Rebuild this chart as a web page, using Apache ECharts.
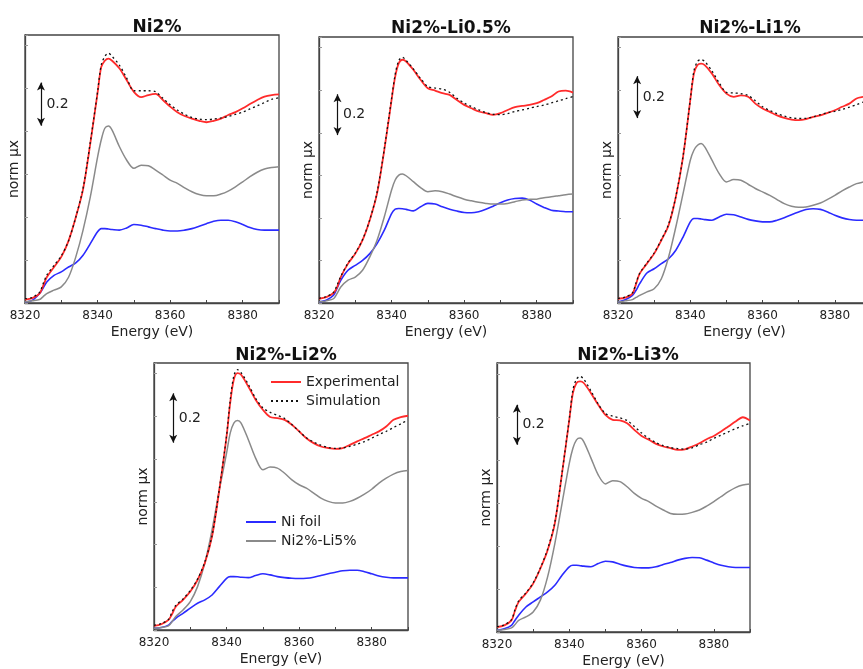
<!DOCTYPE html>
<html>
<head>
<meta charset="utf-8">
<script src="https://cdn.jsdelivr.net/npm/echarts@6/dist/echarts.min.js"></script>
<style>html,body{margin:0;padding:0;background:#fff}#c{width:863px;height:669px}</style>
</head>
<body>
<div id="c"></div>
<script>
// ---- data ----
const energy = [8320,8322,8324,8325,8326,8328,8330,8332,8334,8336,8338,8340,8341,8342,8343,8344,8346,8348,8350,8352,8354,8356,8358,8360,8362,8364,8366,8368,8370,8372,8374,8376,8378,8380,8382,8384,8386,8388,8390];
const xTicks = [8320,8340,8360,8380];
const panelTitles = ['Ni2%','Ni2%-Li0.5%','Ni2%-Li1%','Ni2%-Li2%','Ni2%-Li3%'];
const seriesNames = ['Experimental','Simulation','Ni foil','Ni2%-Li5%'];

const exp1 = [0.016,0.023,0.044,0.08,0.12,0.168,0.215,0.29,0.40,0.53,0.745,0.98,1.10,1.13,1.14,1.13,1.095,1.04,0.985,0.96,0.97,0.975,0.947,0.916,0.89,0.872,0.86,0.85,0.843,0.85,0.86,0.877,0.89,0.908,0.928,0.947,0.963,0.97,0.973];
const sim1 = [0.02,0.026,0.05,0.09,0.13,0.175,0.22,0.29,0.40,0.535,0.75,0.985,1.11,1.15,1.165,1.15,1.11,1.05,0.99,0.99,0.99,0.985,0.955,0.925,0.9,0.88,0.865,0.858,0.855,0.858,0.863,0.87,0.88,0.89,0.905,0.92,0.935,0.95,0.957];
const ref1 = [0.005,0.01,0.016,0.03,0.044,0.06,0.075,0.12,0.215,0.34,0.495,0.68,0.76,0.815,0.825,0.806,0.73,0.667,0.628,0.643,0.64,0.62,0.597,0.573,0.558,0.537,0.519,0.506,0.5,0.5,0.508,0.522,0.542,0.565,0.589,0.61,0.625,0.632,0.636];
const foil1 = [0.005,0.012,0.044,0.07,0.098,0.129,0.145,0.168,0.187,0.223,0.277,0.332,0.347,0.347,0.345,0.343,0.34,0.35,0.366,0.363,0.355,0.347,0.34,0.336,0.336,0.34,0.347,0.358,0.37,0.381,0.386,0.386,0.379,0.366,0.352,0.343,0.34,0.34,0.34];

const exp2 = [0.02,0.028,0.047,0.075,0.122,0.185,0.232,0.295,0.39,0.515,0.72,0.955,1.064,1.127,1.143,1.135,1.096,1.049,1.009,0.998,0.986,0.978,0.954,0.931,0.915,0.9,0.892,0.884,0.892,0.907,0.92,0.926,0.931,0.939,0.954,0.97,0.994,0.998,0.989];
const sim2 = [0.022,0.03,0.05,0.085,0.125,0.188,0.235,0.298,0.392,0.52,0.725,0.96,1.075,1.14,1.155,1.14,1.1,1.055,1.017,1.01,1.005,0.99,0.962,0.94,0.923,0.908,0.895,0.887,0.885,0.89,0.9,0.907,0.915,0.923,0.93,0.94,0.95,0.96,0.97];
const ref2 = [0.005,0.01,0.02,0.045,0.075,0.107,0.122,0.154,0.217,0.295,0.405,0.531,0.578,0.601,0.606,0.598,0.57,0.542,0.523,0.527,0.523,0.512,0.499,0.488,0.48,0.473,0.468,0.465,0.465,0.468,0.476,0.484,0.487,0.488,0.495,0.499,0.504,0.509,0.512];
const foil2 = [0.005,0.013,0.036,0.07,0.107,0.154,0.177,0.2,0.232,0.279,0.342,0.42,0.441,0.444,0.443,0.44,0.433,0.452,0.468,0.465,0.452,0.441,0.432,0.425,0.424,0.429,0.44,0.455,0.471,0.484,0.491,0.493,0.484,0.465,0.449,0.436,0.432,0.429,0.429];

const exp3 = [0.02,0.025,0.044,0.09,0.138,0.185,0.232,0.295,0.365,0.498,0.687,0.953,1.078,1.118,1.125,1.118,1.078,1.024,0.984,0.969,0.976,0.969,0.937,0.914,0.898,0.882,0.87,0.862,0.859,0.864,0.875,0.882,0.893,0.906,0.922,0.937,0.961,0.969,0.976];
const sim3 = [0.022,0.028,0.048,0.095,0.14,0.188,0.235,0.298,0.37,0.5,0.69,0.955,1.09,1.135,1.144,1.135,1.09,1.035,0.99,0.987,0.984,0.975,0.95,0.922,0.905,0.89,0.878,0.87,0.867,0.868,0.875,0.885,0.895,0.9,0.91,0.92,0.932,0.945,0.952];
const ref3 = [0.005,0.01,0.016,0.026,0.036,0.052,0.067,0.114,0.216,0.357,0.514,0.671,0.718,0.741,0.749,0.734,0.671,0.608,0.569,0.58,0.577,0.558,0.538,0.522,0.506,0.486,0.467,0.455,0.45,0.451,0.459,0.47,0.487,0.506,0.527,0.545,0.561,0.569,0.577];
const foil3 = [0.005,0.015,0.036,0.06,0.091,0.141,0.161,0.185,0.208,0.248,0.31,0.381,0.397,0.397,0.395,0.392,0.389,0.404,0.417,0.415,0.404,0.393,0.386,0.381,0.381,0.389,0.401,0.415,0.428,0.439,0.443,0.44,0.428,0.412,0.4,0.392,0.389,0.389,0.389];

const exp4 = [0.019,0.027,0.047,0.075,0.109,0.141,0.18,0.234,0.313,0.438,0.656,0.906,1.063,1.172,1.203,1.195,1.14,1.078,1.031,0.997,0.992,0.984,0.961,0.93,0.898,0.875,0.859,0.852,0.848,0.852,0.867,0.883,0.898,0.914,0.93,0.953,0.984,0.997,1.003];
const sim4 = [0.022,0.03,0.05,0.085,0.115,0.145,0.185,0.238,0.318,0.443,0.66,0.91,1.075,1.19,1.219,1.205,1.15,1.085,1.04,1.019,1.005,0.99,0.962,0.93,0.9,0.88,0.865,0.855,0.85,0.852,0.86,0.87,0.882,0.898,0.915,0.93,0.948,0.965,0.984];
const ref4 = [0.008,0.012,0.019,0.04,0.063,0.094,0.133,0.203,0.313,0.469,0.656,0.828,0.922,0.969,0.981,0.969,0.891,0.805,0.75,0.763,0.758,0.734,0.703,0.68,0.664,0.641,0.617,0.602,0.594,0.594,0.602,0.617,0.636,0.659,0.688,0.711,0.73,0.742,0.747];
const foil4 = [0.008,0.012,0.023,0.04,0.055,0.078,0.102,0.125,0.141,0.164,0.203,0.242,0.25,0.25,0.249,0.247,0.245,0.255,0.263,0.258,0.25,0.245,0.242,0.241,0.242,0.247,0.255,0.263,0.27,0.277,0.28,0.28,0.273,0.263,0.253,0.247,0.244,0.244,0.244];

const exp5 = [0.023,0.031,0.054,0.1,0.14,0.179,0.225,0.295,0.38,0.505,0.738,0.986,1.11,1.157,1.165,1.157,1.11,1.056,1.009,0.986,0.983,0.97,0.939,0.911,0.893,0.874,0.862,0.854,0.846,0.849,0.862,0.877,0.896,0.911,0.932,0.955,0.978,0.998,0.983];
const sim5 = [0.025,0.033,0.057,0.105,0.145,0.182,0.228,0.298,0.385,0.51,0.74,0.99,1.125,1.175,1.188,1.175,1.12,1.06,1.015,1.003,0.995,0.983,0.955,0.925,0.9,0.88,0.866,0.857,0.852,0.85,0.856,0.87,0.882,0.9,0.915,0.93,0.945,0.958,0.97];
const ref5 = [0.008,0.012,0.019,0.035,0.054,0.07,0.093,0.148,0.256,0.411,0.598,0.784,0.854,0.893,0.901,0.885,0.808,0.73,0.688,0.703,0.699,0.675,0.644,0.621,0.606,0.585,0.567,0.551,0.547,0.548,0.556,0.567,0.585,0.606,0.629,0.652,0.671,0.683,0.688];
const foil5 = [0.008,0.015,0.031,0.055,0.078,0.116,0.14,0.163,0.186,0.217,0.264,0.303,0.31,0.31,0.308,0.306,0.303,0.318,0.329,0.326,0.315,0.306,0.3,0.298,0.298,0.303,0.314,0.323,0.334,0.342,0.346,0.345,0.334,0.321,0.31,0.303,0.3,0.3,0.3];

// scale bar "0.2": [energy, yLow, yHigh] per panel
const scaleBar1 = [8324.4, 0.827, 1.028];
const scaleBar2 = [8325.1, 0.789, 0.981];
const scaleBar3 = [8325.3, 0.869, 1.066];
const scaleBar4 = [8325.3, 0.877, 1.108];
const scaleBar5 = [8325.5, 0.870, 1.056];
const scaleLabel = '0.2';

// ---- layout / style ----
const FONT = 'DejaVu Sans';
const grids = [
  {left:25, top:35, width:254, height:268},
  {left:319, top:37, width:254, height:266},
  {left:618, top:37, width:253, height:266},
  {left:154, top:363, width:254, height:267},
  {left:497, top:363, width:253, height:269}
];
const titleCenters = [152, 446, 745, 281, 623];
const titleTops = [14, 15, 15, 342, 342];
const panels = [
  [exp1, sim1, foil1, ref1, scaleBar1],
  [exp2, sim2, foil2, ref2, scaleBar2],
  [exp3, sim3, foil3, ref3, scaleBar3],
  [exp4, sim4, foil4, ref4, scaleBar4],
  [exp5, sim5, foil5, ref5, scaleBar5]
];
const pair = v => energy.map((e, i) => [e, v[i]]);

const option = {
  animation: false,
  textStyle: {fontFamily: FONT},
  title: grids.map((g, i) => ({
    text: panelTitles[i], left: titleCenters[i], top: titleTops[i], textAlign: 'center',
    textStyle: {fontFamily: FONT, fontSize: 17, fontWeight: 'bold', color: '#111'}
  })),
  grid: grids.map(g => Object.assign({show: true, borderColor: '#444', borderWidth: 1.3, backgroundColor: 'transparent',
    containLabel: false, outerBoundsMode: 'none'}, g)),
  xAxis: grids.map((g, i) => ({
    gridIndex: i, type: 'value', min: 8320, max: 8390, interval: 10,
    name: 'Energy (eV)', nameLocation: 'middle', nameGap: 22,
    nameTextStyle: {fontFamily: FONT, fontSize: 14, color: '#222'},
    axisLine: {onZero: false, lineStyle: {color: '#444', width: 1.3}},
    axisTick: {inside: true, length: 3, lineStyle: {color: '#444'}},
    axisLabel: {margin: 7, fontFamily: FONT, fontSize: 12, color: '#222',
      formatter: v => xTicks.indexOf(v) >= 0 ? String(v) : ''},
    splitLine: {show: false}
  })),
  yAxis: grids.map((g, i) => ({
    gridIndex: i, type: 'value', min: 0, max: 1.25, interval: 0.2,
    name: 'norm μx', nameLocation: 'middle', nameGap: 4,
    nameTextStyle: {fontFamily: FONT, fontSize: 14, color: '#222'},
    axisLine: {show: true, lineStyle: {color: '#444', width: 1.3}},
    axisTick: {inside: true, length: 3, lineStyle: {color: '#999'}},
    axisLabel: {show: false},
    splitLine: {show: false}
  })),
  legend: [
    {data: ['Experimental', 'Simulation'], orient: 'vertical', left: 270, top: 375, padding: 0, itemWidth: 30, itemHeight: 10, itemGap: 5,
      itemStyle: {opacity: 0},
      textStyle: {fontFamily: FONT, fontSize: 14, color: '#222'}},
    {data: ['Ni foil', 'Ni2%-Li5%'], orient: 'vertical', left: 245, top: 515, padding: 0, itemWidth: 30, itemHeight: 10, itemGap: 5,
      itemStyle: {opacity: 0},
      textStyle: {fontFamily: FONT, fontSize: 14, color: '#222'}}
  ],
  series: []
};

panels.forEach((p, i) => {
  const [exp, sim, foil, ref, bar] = p;
  const common = {type: 'line', xAxisIndex: i, yAxisIndex: i, symbol: 'none', smooth: 0.3, silent: true};
  option.series.push(Object.assign({}, common, {name: 'Ni foil', data: pair(foil), lineStyle: {color: '#2b2bff', width: 1.6}, itemStyle: {color: '#2b2bff'}}));
  option.series.push(Object.assign({}, common, {name: 'Ni2%-Li5%', data: pair(ref), lineStyle: {color: '#8a8a8a', width: 1.5}, itemStyle: {color: '#8a8a8a'}}));
  option.series.push(Object.assign({}, common, {name: 'Experimental', data: pair(exp), lineStyle: {color: '#ff2b2b', width: 1.8}, itemStyle: {color: '#ff2b2b'},
    markLine: {silent: true, symbol: ['arrow', 'arrow'], symbolSize: [6, 8], label: {show: false},
      lineStyle: {color: '#111', width: 1.2, type: 'solid'},
      data: [[{coord: [bar[0], bar[1]]}, {coord: [bar[0], bar[2]]}]]},
    markPoint: {silent: true, symbol: 'circle', symbolSize: 1, itemStyle: {color: 'rgba(0,0,0,0)'},
      label: {show: true, position: 'right', distance: 5, formatter: scaleLabel, fontFamily: FONT, fontSize: 14, color: '#222'},
      data: [{coord: [bar[0], (bar[1] + bar[2]) / 2]}]}
  }));
  option.series.push(Object.assign({}, common, {name: 'Simulation', data: pair(sim), lineStyle: {color: '#111', width: 1.3, type: [2, 3]}, itemStyle: {color: '#111'}}));
});

const chart = echarts.init(document.getElementById('c'), null, {renderer: 'canvas'});
chart.setOption(option);
</script>
</body>
</html>
